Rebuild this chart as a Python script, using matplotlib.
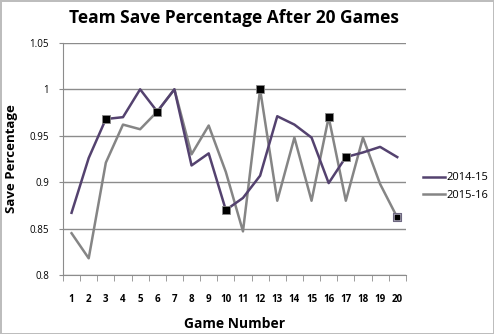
import matplotlib
matplotlib.use('Agg')
import matplotlib.pyplot as plt
from matplotlib.ticker import FixedLocator

games = list(range(1, 21))
sv_1415 = [0.867, 0.926, 0.968, 0.970, 1.000, 0.976, 1.000, 0.918, 0.931, 0.870,
           0.883, 0.907, 0.971, 0.962, 0.948, 0.899, 0.927, 0.932, 0.938, 0.927]
sv_1516 = [0.845, 0.818, 0.921, 0.962, 0.957, 0.976, 1.000, 0.930, 0.961, 0.911,
           0.847, 1.000, 0.880, 0.948, 0.880, 0.970, 0.880, 0.948, 0.898, 0.862]
y_ticks = [0.8, 0.85, 0.9, 0.95, 1.0, 1.05]
y_labels = ['0.8', '0.85', '0.9', '0.95', '1', '1.05']
# highlighted games (black squares) and which season they sit on
marked_1415 = [3, 6, 10, 17]
marked_1516 = [12, 16]
marked_faded = [20]

purple = '#54426f'
gray = '#858585'

plt.rcParams['font.family'] = ['Open Sans', 'DejaVu Sans']

fig = plt.figure(figsize=(4.94, 3.34), dpi=100)
fig.patch.set_edgecolor('#bdbdbd')
fig.patch.set_linewidth(2)
ax = fig.add_axes([0.1275, 0.1766, 0.694, 0.695])

ax.plot(games, sv_1415, color=purple, lw=1.8, label='2014-15', zorder=3)
ax.plot(games, sv_1516, color=gray, lw=1.8, label='2015-16', zorder=2)

ax.scatter(marked_1415, [sv_1415[g - 1] for g in marked_1415], marker='s', s=36,
           color='black', edgecolor='#888888', linewidth=0.6, zorder=4)
ax.scatter(marked_1516, [sv_1516[g - 1] for g in marked_1516], marker='s', s=36,
           color='black', edgecolor='#888888', linewidth=0.6, zorder=4)
ax.scatter(marked_faded, [sv_1516[g - 1] for g in marked_faded], marker='s', s=36,
           color='#a8a4b4', edgecolor='#6d6780', linewidth=0.8, zorder=4)
ax.scatter(marked_faded, [sv_1516[g - 1] for g in marked_faded], marker='s', s=5,
           color='black', zorder=5)

ax.set_xlim(0.5, 20.5)
ax.set_ylim(0.8, 1.05)
ax.set_yticks(y_ticks)
ax.set_yticklabels(y_labels, fontsize=7)
ax.grid(axis='y', color='#8c8c8c', lw=1)
ax.set_axisbelow(True)

ax.set_xticks(games)
ax.set_xticklabels([str(g) for g in games], fontsize=7, fontweight='bold')
ax.xaxis.set_minor_locator(FixedLocator([g + 0.5 for g in range(0, 21)]))
ax.tick_params(axis='x', which='major', length=0, pad=14)
ax.tick_params(axis='x', which='minor', length=4, color='#8c8c8c', direction='out')
ax.tick_params(axis='y', length=3, color='#8c8c8c', direction='out', pad=7)

for side in ['top', 'right']:
    ax.spines[side].set_visible(False)
ax.spines['left'].set_color('#8c8c8c')
ax.spines['bottom'].set_color('#8c8c8c')

ax.set_title('Team Save Percentage After 20 Games', fontsize=12.5, fontweight='bold', pad=14)
ax.set_xlabel('Game Number', fontsize=10, fontweight='bold', labelpad=8)
ax.set_ylabel('Save Percentage', fontsize=9.5, fontweight='bold', labelpad=8)

ax.legend(loc='center left', bbox_to_anchor=(1.02, 0.38), frameon=False, fontsize=8,
          handlelength=2.0, handletextpad=0.1, labelspacing=0.6)

fig.savefig('out.png', dpi=100)
